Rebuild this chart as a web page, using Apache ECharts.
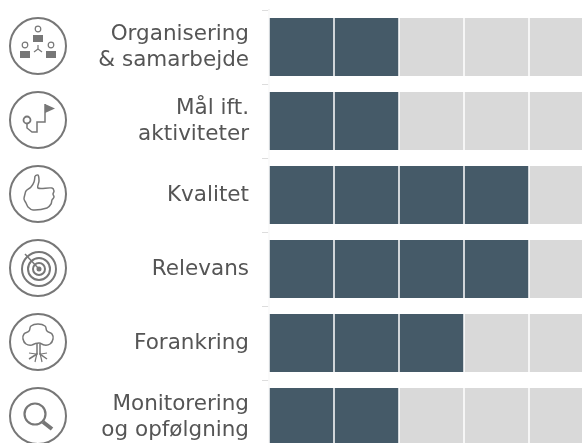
<!DOCTYPE html>
<html>
<head>
<meta charset="utf-8">
<style>
    html, body { margin: 0; padding: 0; background: #fff; overflow: hidden; }
    #main { width: 582px; height: 443px; }
</style>
<script src="https://cdn.jsdelivr.net/npm/echarts@6/dist/echarts.min.js"></script>
</head>
<body>
<div id="main"></div>
<script>
var categories = ['Organisering\n& samarbejde', 'Mål ift.\naktiviteter', 'Kvalitet', 'Relevans', 'Forankring', 'Monitorering\nog opfølgning'];
var scoreValues = [2, 2, 4, 4, 3, 2];
var restValues = [3, 3, 1, 1, 2, 3];
var xTicks = [0, 1, 2, 3, 4, 5];

(function () {
    var chartDom = document.getElementById('main');
    var myChart = echarts.init(chartDom);
    var iconColor = '#777777';

    var option = {
        animation: false,
        backgroundColor: '#ffffff',
        grid: {
            left: 269,
            right: -12,
            top: 10,
            bottom: -11,
            outerBoundsMode: 'none'
        },
        xAxis: {
            type: 'value',
            min: xTicks[0],
            max: xTicks[xTicks.length - 1],
            interval: 1,
            z: 10,
            axisLine: { show: false },
            axisTick: { show: false },
            axisLabel: { show: false },
            splitLine: {
                show: true,
                lineStyle: { color: '#ffffff', width: 1.5 }
            }
        },
        yAxis: {
            type: 'category',
            inverse: true,
            data: categories,
            axisLine: { show: true, lineStyle: { color: '#e2e2e2', width: 1.5 } },
            axisTick: { show: true, length: 7, lineStyle: { color: '#dddddd', width: 1 } },
            axisLabel: {
                margin: 20,
                align: 'right',
                fontFamily: 'DejaVu Sans',
                fontSize: 21.5,
                lineHeight: 26,
                padding: [4, 0, 0, 0],
                color: '#555555'
            }
        },
        series: [
            {
                name: 'Score',
                type: 'bar',
                stack: 'total',
                barWidth: 58,
                itemStyle: { color: '#455a68' },
                data: scoreValues
            },
            {
                name: 'Rest',
                type: 'bar',
                stack: 'total',
                barWidth: 58,
                itemStyle: { color: '#d9d9d9' },
                data: restValues
            }
        ]
    };

    myChart.setOption(option);

    // ikonerne tegnes omkring (0,0) og flyttes ud til hver række
    function ring(cx, cy, r, width) {
        return { type: 'circle', shape: { cx: cx, cy: cy, r: r }, style: { fill: 'none', stroke: iconColor, lineWidth: width || 1.5 } };
    }
    function dot(cx, cy, r) {
        return { type: 'circle', shape: { cx: cx, cy: cy, r: r }, style: { fill: iconColor } };
    }
    function box(x, y, w, h) {
        return { type: 'rect', shape: { x: x, y: y, width: w, height: h }, style: { fill: iconColor } };
    }
    function line(points, smooth, width) {
        return { type: 'polyline', shape: { points: points, smooth: smooth || 0 }, style: { fill: 'none', stroke: iconColor, lineWidth: width || 1.5 } };
    }
    function person(x, y) {
        return [
            ring(x, y - 6, 2.8, 1.2),
            box(x - 5, y, 10, 7)
        ];
    }

    var icons = [
        [].concat(
            person(0, -11), person(-13, 5), person(13, 5),
            [line([[0, -1], [0, 3]], 0, 1.2), line([[0, 3], [-4, 6]], 0, 1.2), line([[0, 3], [4, 6]], 0, 1.2)]
        ),
        [
            ring(-11, 0, 3.5, 1.8),
            line([[-11, 4], [-11, 8], [-6, 12], [-1, 12], [-1, 2], [7, 2], [7, -16]], 0, 1.5),
            { type: 'polygon', shape: { points: [[7, -16], [17, -11.5], [7, -7]] }, style: { fill: iconColor } }
        ],
        [
            line([[-3, -18], [0, -19], [1, -13], [0, -6], [14, -6], [16, -3], [15, 0], [16, 3], [14, 6], [13, 10], [9, 14], [-5, 16], [-10, 13], [-12, 9], [-14, 5], [-13, 0], [-12, -3], [-7, -7], [-4, -12], [-3, -18]], 0.3, 1.5)
        ],
        [
            ring(1, 1, 17, 2),
            ring(1, 1, 11, 2),
            ring(1, 1, 6, 2),
            dot(1, 1, 2.5),
            line([[1, 1], [-13, -14]], 0, 1.5)
        ],
        [
            line([[-6, 3], [-12, 2], [-15, -3], [-14, -8], [-9, -11], [-7, -16], [0, -18], [7, -16], [9, -11], [14, -8], [15, -3], [12, 2], [6, 3], [1, 1], [-6, 3]], 0.5, 1.5),
            line([[-1, 2], [-1, 12], [-9, 17]], 0, 1.5),
            line([[2, 2], [2, 12], [9, 17]], 0, 1.5),
            line([[-1, 11], [-3, 20]], 0, 1.2),
            line([[2, 11], [4, 20]], 0, 1.2),
            line([[-9, 11], [-2, 12]], 0, 1.2),
            line([[9, 11], [3, 12]], 0, 1.2)
        ],
        [
            ring(-3, -2, 10.5, 2.2),
            line([[5, 6], [14, 13]], 0, 4)
        ]
    ];

    var elements = [];
    for (var i = 0; i < categories.length; i++) {
        var cy = myChart.convertToPixel({ yAxisIndex: 0 }, i) - 1;
        elements.push({
            type: 'group',
            x: 38,
            y: cy,
            children: [ring(0, 0, 28, 2)].concat(icons[i])
        });
    }
    myChart.setOption({ graphic: { elements: elements } });

    window.addEventListener('resize', function () {
        myChart.resize();
    });
})();
</script>
</body>
</html>
